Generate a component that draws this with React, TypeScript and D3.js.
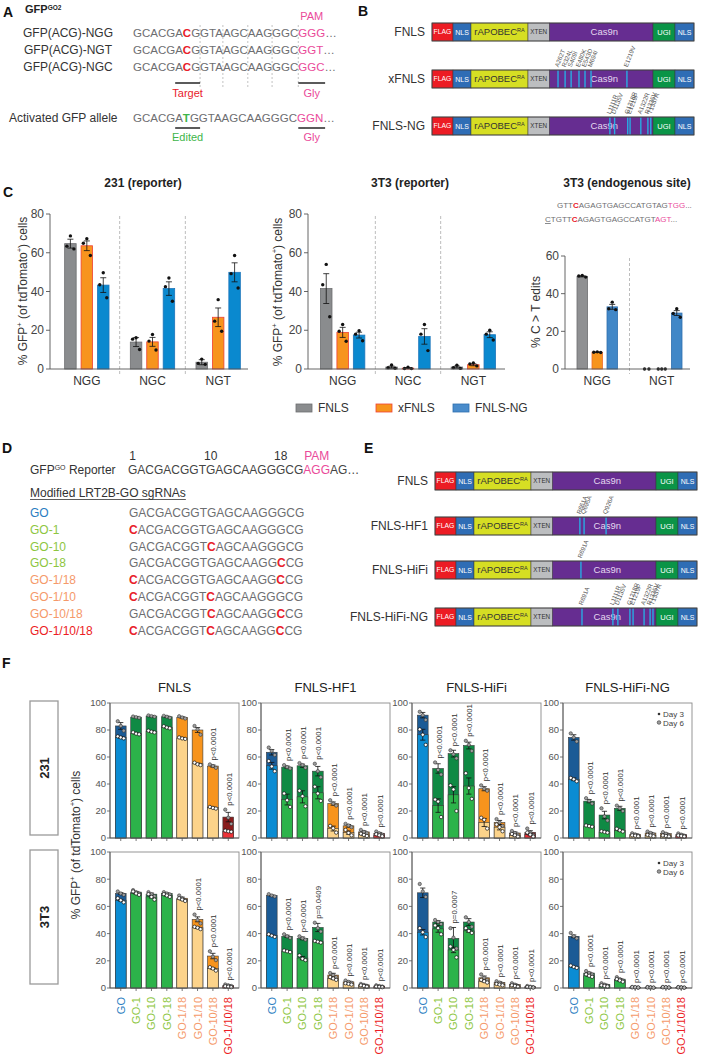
import React from 'react';
import * as d3 from 'd3';

const FONT = "'Liberation Sans', Arial, Helvetica, sans-serif";
const RED = '#e8202a';
const PINK = '#ea4a9a';
const GREEN_TXT = '#3db549';
const SEQ_GRAY = '#6d6e71';
const TXT = '#333';

// ---------------- Panel A data ----------------
const aRowLabels = ['GFP(ACG)-NGG', 'GFP(ACG)-NGT', 'GFP(ACG)-NGC'];
const aPre = 'GCACGA';
const aTarget = 'C';
const aPost = 'GGTAAGCAAGGGC';
const aPams = ['GGG', 'GGT', 'GGC'];
const aEdit = 'T';
const aEditPam = 'GGN';
const aCodonBreaks = [8, 11, 14, 17, 20];

// ---------------- Panel B / E data ----------------
const conSegments = ['FLAG', 'NLS', 'rAPOBEC', 'XTEN', 'Cas9n', 'UGI', 'NLS'];
const conSegWidths = [21, 18, 57, 21.5, 103.5, 22, 19];
const bNames = ['FNLS', 'xFNLS', 'FNLS-NG'];
const bMutPos = [[], [0.481, 0.508, 0.531, 0.561, 0.584, 0.607, 0.744], [0.679, 0.697, 0.747, 0.756, 0.797, 0.824, 0.835]];
const bMutLabels = [[], ['A262T', 'R324L', 'S409I', 'E480K', 'E543D', 'M694I', 'E1219V'], ['L1111R', 'D1135V', 'G1218R', 'E1219F', 'A1322R', 'R1335V', 'T1337R']];
const eNames = ['FNLS', 'FNLS-HF1', 'FNLS-HiFi', 'FNLS-HiFi-NG'];
const eMutPos = [[], [0.553, 0.569, 0.653], [0.557], [0.561, 0.679, 0.698, 0.744, 0.756, 0.798, 0.821, 0.832]];
const eMutLabels = [[], ['R661A', 'Q695A', 'Q926A'], ['R691A'], ['R691A', 'L1111R', 'D1135V', 'G1218R', 'E1219F', 'A1322R', 'R1335V', 'T1337R']];

// ---------------- Panel C data ----------------
const cSeries = ['FNLS', 'xFNLS', 'FNLS-NG'];
const cGroupsReporter = ['NGG', 'NGC', 'NGT'];
const cGroupsEndo = ['NGG', 'NGT'];
const c231Mean = [[64.7, 13.9, 3.5], [63.6, 14, 26.7], [43.3, 41.5, 49.9]];
const c231Sem = [[2.3, 2.3, 1.3], [2.5, 2.3, 4.8], [3.8, 3.5, 4.9]];
const c231Pts = [
  [[68.7, 63.4, 62], [16.1, 15.4, 10.1], [5.1, 2.9, 2.4]],
  [[67.2, 64.9, 58.6], [17.8, 14.4, 9.8], [35.8, 24.7, 19.5]],
  [[49.7, 43.5, 36.8], [47, 42.5, 35], [58.6, 49.2, 41.8]],
];
const c3t3Mean = [[41.5, 1, 1], [18.9, 0.45, 2.2], [17.5, 16.8, 17.7]];
const c3t3Sem = [[7.7, 0.5, 0.5], [2.6, 0.25, 0.5], [1.5, 4.0, 1.5]];
const c3t3Pts = [
  [[54, 43.5, 27], [2.1, 0.7, 0.35], [2, 0.7, 0.3]],
  [[23, 19.5, 14.3], [0.9, 0.25, 0.2], [3.1, 2.6, 1.6]],
  [[19.8, 18, 14.6], [23, 18, 9.5], [20, 18, 15]],
];
const cEndoMean = [[49.2, 0], [8.9, 0], [33, 29.7]];
const cEndoSem = [[0.3, 0], [0.1, 0], [1.3, 1.3]];
const cEndoPts = [[[49.7, 49.4, 48.8], [0, 0]], [[9.1, 8.9, 8.8], [0, 0, 0]], [[35.5, 32, 31.5], [32, 29.5, 27.5]]];
const cYTitles = ['231 (reporter)', '3T3 (reporter)', '3T3 (endogenous site)'];

// ---------------- Panel D data ----------------
const dReporter = 'GACGACGGTGAGCAAGGGCG';
const dPam = 'AGG';
const dTail = 'AG…';
const dNumbers = [1, 10, 18];
const dGuides = ['GO', 'GO-1', 'GO-10', 'GO-18', 'GO-1/18', 'GO-1/10', 'GO-10/18', 'GO-1/10/18'];
const dMods = [[], [0], [9], [17], [0, 17], [0, 9], [9, 17], [0, 9, 17]];
const guideKind = ['go', 'single', 'single', 'single', 'double', 'double', 'double', 'triple'];
const kindLabelColor = { go: '#2a7dc1', single: '#8dc63f', double: '#f5996a', triple: '#ec1c24' };
const kindDark = { go: '#1b5b96', single: '#0f8a44', double: '#f7941d', triple: '#8a1c1c' };
const kindLight = { go: '#0b8cd3', single: '#2cb34a', double: '#fcd38a', triple: '#ec3338' };

// ---------------- Panel F data ----------------
const fConstructs = ['FNLS', 'FNLS-HF1', 'FNLS-HiFi', 'FNLS-HiFi-NG'];
const fCellLines = ['231', '3T3'];
const P = 'p<0.0001';
const fDay6Mean = [
  [83, 89.5, 90.3, 89.8, 89.3, 80, 53.3, 15.5],
  [63.5, 52.5, 53.5, 49.5, 25.5, 9, 4.5, 3.5],
  [91, 51.5, 62.5, 68.5, 36.5, 11.5, 3.7, 4.2],
  [74.5, 27.3, 17, 22, 2.7, 3.7, 3.2, 2.5],
  [69.5, 70.5, 69, 69.5, 66, 50.5, 23.5, 2],
  [68, 38, 36.5, 44.5, 9.5, 4.5, 2.3, 1.5],
  [70, 48.5, 36.5, 48.5, 7.5, 4, 2.5, 1],
  [38, 11, 2.5, 6.5, 0.6, 0.5, 0.6, 0.5],
];
const fDay6Sem = [
  [2.5, 0.4, 0.4, 0.5, 0.5, 1.8, 0.8, 3.5],
  [2, 0.8, 1.2, 3.5, 1.2, 1, 0.8, 0.6],
  [2, 3.5, 2.5, 2.5, 1.5, 1.5, 0.8, 1.2],
  [2, 1.2, 2.8, 1.5, 0.4, 0.5, 0.5, 0.4],
  [0.6, 0.5, 0.8, 0.5, 0.8, 1.8, 2, 0.3],
  [0.4, 0.8, 1, 3, 1.3, 0.5, 0.4, 0.3],
  [3.5, 1, 8, 2.5, 1.3, 0.6, 0.5, 0.25],
  [1, 0.6, 0.4, 0.5, 0.1, 0.1, 0.1, 0.1],
];
const fDay6Pts = [
  [[86.5, 83, 79.5], [90, 89.5, 89], [90.8, 90.3, 89.8], [90.5, 89.8, 89], [90.2, 89.3, 88.5], [83, 80.5, 76.5], [54.5, 53.3, 52], [21, 15, 10.5]],
  [[67, 64.5, 61.5], [54, 52.5, 51.5], [55.5, 54, 52], [55, 49.5, 45], [28, 25.5, 24], [10.5, 9.3, 8], [6, 4.5, 3.5], [4.8, 3.5, 2.5]],
  [[93.5, 91, 87.5], [56, 50.5, 47], [65, 62, 59], [72, 69, 64.5], [39, 36.5, 35], [14, 11.5, 9], [5.2, 3.7, 2.5], [7, 4, 2.2]],
  [[77.5, 74.5, 71.5], [29.5, 27.5, 25.5], [22, 16, 13], [24, 22, 20], [3.5, 2.7, 2], [4.8, 3.7, 2.7], [4.3, 3.2, 2.2], [3.4, 2.5, 1.7]],
  [[71, 69.5, 68.5], [72, 70.5, 69.5], [70.5, 69, 67.5], [70.5, 69.5, 68.8], [68, 66, 64.5], [54, 50, 47.5], [27, 23, 20.5], [2.6, 2, 1.5]],
  [[69, 68, 67.3], [39.5, 38, 36.8], [38, 36.5, 35.5], [48, 44, 41.5], [11, 9.5, 8], [5.5, 4.5, 3.8], [3, 2.3, 1.6], [2, 1.5, 1.1]],
  [[76.5, 71, 67], [50, 48.5, 47], [44, 37, 29], [52, 48.5, 45], [10, 7.5, 6], [5, 4, 3], [3.5, 2.5, 1.5], [1.5, 1, 0.6]],
  [[40.5, 38, 36.5], [12.5, 11, 10], [3.5, 2.5, 1.7], [8, 6.5, 5.5], [0.8, 0.6, 0.4], [0.7, 0.5, 0.3], [0.8, 0.6, 0.4], [0.7, 0.5, 0.3]],
];
const fDay3Mean = [
  [74.5, 77.5, 78.8, 82, 74, 55, 22.5, 5],
  [53.5, 28.5, 30.5, 33.5, 7, 4, 2.3, 2],
  [76.5, 24, 32, 38.5, 11.5, 8, 2, 2.5],
  [43.5, 8.8, 4.5, 5.7, 1.7, 1.8, 1.5, 1.5],
  [64.5, 69.5, 67, 68, 65, 44.3, 14.3, 1],
  [38.5, 27, 22, 34, 7, 3, 1.5, 0.8],
  [41, 43.5, 28, 42, 5, 2.5, 1.5, 0.5],
  [15.5, 9, 1.5, 5.5, 0.4, 0.3, 0.4, 0.3],
];
const fDay3Sem = [
  [0.5, 0.5, 0.5, 0.5, 0.4, 0.5, 0.4, 0.3],
  [2.5, 4, 4.5, 4.5, 1.8, 1.2, 0.6, 0.5],
  [4, 5, 6, 6, 3, 2, 0.6, 0.8],
  [1, 0.3, 0.4, 0.6, 0.3, 0.3, 0.3, 0.3],
  [0.6, 0.5, 0.8, 0.4, 0.4, 0.5, 0.6, 0.2],
  [0.4, 0.4, 1.2, 0.4, 0.8, 0.3, 0.2, 0.15],
  [2, 2.5, 2, 1, 0.6, 0.3, 0.3, 0.15],
  [0.4, 0.4, 0.2, 0.4, 0.1, 0.1, 0.1, 0.1],
];
const fDay3Pts = [
  [[75.3, 74.5, 73.8], [78.3, 77.3, 76.8], [79.5, 78.7, 78.2], [82.8, 81.8, 81.3], [74.5, 73.8, 73.4], [55.8, 54.6, 54], [23, 22.3, 21.8], [5.5, 5, 4.6]],
  [[57, 53, 49.5], [33, 28, 23], [35, 31, 23.5], [38, 33, 27.5], [9, 7.2, 4], [6, 3.8, 2], [3.2, 2.3, 1.5], [2.8, 2, 1.3]],
  [[80.5, 76.5, 69], [28.5, 27, 15.5], [39, 36, 20], [48, 37, 29], [15, 13.5, 7], [10, 8, 5], [3, 2, 1], [4, 2.5, 1]],
  [[44.5, 43.5, 42], [9.3, 8.8, 8.3], [5, 4.5, 4], [6.8, 5.7, 4.8], [2, 1.7, 1.3], [2.3, 1.8, 1.3], [1.9, 1.5, 1.1], [1.9, 1.5, 1.1]],
  [[66, 64.5, 63], [71, 69.5, 68.5], [69, 67, 65], [69, 68, 67], [66, 65, 64], [45, 44.3, 43.3], [15.3, 14.3, 12.8], [1.3, 1, 0.6]],
  [[39.5, 38.5, 37.6], [27.6, 27, 26.4], [24, 21.5, 20.5], [34.6, 34, 33.4], [8, 7, 6], [3.5, 3, 2.5], [2, 1.5, 1], [1, 0.8, 0.6]],
  [[44, 41, 37.5], [46, 44, 39.5], [30.5, 28, 22.5], [44, 42, 40.5], [6, 5, 4], [3, 2.5, 2], [2, 1.5, 1], [0.7, 0.5, 0.3]],
  [[16.5, 15.5, 14.8], [10, 9, 8.2], [2, 1.5, 1.1], [6.5, 5.5, 4.6], [0.5, 0.4, 0.3], [0.4, 0.3, 0.2], [0.5, 0.4, 0.3], [0.4, 0.3, 0.2]],
];
const fPLabels = [
  ['', '', '', '', '', '', P, P],
  ['', P, P, P, P, P, P, P],
  ['', P, P, P, P, P, P, P],
  ['', P, P, P, P, P, P, P],
  ['', '', '', '', '', P, P, P],
  ['', P, P, 'p=0.0409', P, P, P, P],
  ['', '', 'p=0.0007', '', P, P, P, P],
  ['', P, P, P, P, P, P, P],
];
const fLegend = ['Day 3', 'Day 6'];

// ---------------- helpers ----------------
let measureCtx: CanvasRenderingContext2D | null = null;
function textWidth(s: string, size: number, bold = false): number {
  if (!measureCtx) {
    const c = document.createElement('canvas');
    measureCtx = c.getContext('2d');
  }
  if (!measureCtx) return s.length * size * 0.68;
  measureCtx.font = `${bold ? 'bold ' : ''}${size}px "Liberation Sans"`;
  return measureCtx.measureText(s).width;
}

type Part = { t: string; c?: string; b?: boolean; u?: boolean };
function Seq({ x, y, size, parts }: { x: number; y: number; size: number; parts: Part[] }) {
  return (
    <text x={x} y={y} fontSize={size}>
      {parts.map((p, i) => (
        <tspan key={i} fill={p.c || SEQ_GRAY} fontWeight={p.b ? 'bold' : 'normal'} textDecoration={p.u ? 'underline' : undefined}>
          {p.t}
        </tspan>
      ))}
    </text>
  );
}

function GfpLabel({ x, y, size }: { x: number; y: number; size: number }) {
  const s = size * 0.62;
  const d = size * 0.38;
  return (
    <text transform={`translate(${x},${y}) rotate(-90)`} textAnchor="middle" fontSize={size} fill={TXT}>
      % GFP<tspan fontSize={s} dy={-d}>+</tspan>
      <tspan dy={d}> (of tdTomato</tspan>
      <tspan fontSize={s} dy={-d}>+</tspan>
      <tspan dy={d}>) cells</tspan>
    </text>
  );
}

// ---------------- Panel A ----------------
function PanelA() {
  const size = 11.5;
  const sx = 133;
  const full = aPre + aTarget + aPost + aPams[0];
  const xAt = (i: number) => sx + textWidth(full.slice(0, i), size);
  const rowsY = [37, 54, 71];
  const actY = 122;
  return (
    <g>
      <text x={3} y={17} fontSize={14} fontWeight="bold" fill="#111">A</text>
      <text x={25} y={13} fontSize={11} fontWeight="bold" fill="#222">
        GFP<tspan fontSize={6.5} dy={-3}>GO2</tspan>
      </text>
      {aCodonBreaks.map((b) => (
        <line key={b} x1={xAt(b)} x2={xAt(b)} y1={25} y2={89} stroke="#9a9a9a" strokeWidth={0.6} strokeDasharray="2,2" />
      ))}
      <text x={(xAt(20) + xAt(23)) / 2} y={20} fontSize={11} fill={PINK} textAnchor="middle">PAM</text>
      {aRowLabels.map((l, i) => (
        <g key={l}>
          <text x={68} y={rowsY[i]} fontSize={12} fill={TXT} textAnchor="middle">{l}</text>
          <Seq x={sx} y={rowsY[i]} size={size} parts={[{ t: aPre }, { t: aTarget, c: RED, b: true }, { t: aPost }, { t: aPams[i], c: PINK }, { t: '…' }]} />
        </g>
      ))}
      <line x1={xAt(5)} x2={xAt(8)} y1={83} y2={83} stroke="#333" strokeWidth={1.6} />
      <text x={(xAt(5) + xAt(8)) / 2} y={97} fontSize={11} fill={RED} textAnchor="middle">Target</text>
      <line x1={xAt(20)} x2={xAt(23)} y1={83} y2={83} stroke="#333" strokeWidth={1.6} />
      <text x={(xAt(20) + xAt(23)) / 2} y={97} fontSize={11} fill={PINK} textAnchor="middle">Gly</text>

      <text x={9} y={actY} fontSize={12} fill={TXT}>Activated GFP allele</text>
      <Seq x={sx} y={actY} size={size} parts={[{ t: aPre }, { t: aEdit, c: GREEN_TXT, b: true }, { t: aPost }, { t: aEditPam, c: PINK }, { t: '…' }]} />
      <line x1={xAt(5)} x2={xAt(8)} y1={128} y2={128} stroke="#333" strokeWidth={1.6} />
      <text x={(xAt(5) + xAt(8)) / 2} y={141} fontSize={11} fill={GREEN_TXT} textAnchor="middle">Edited</text>
      <line x1={xAt(20)} x2={xAt(23)} y1={128} y2={128} stroke="#333" strokeWidth={1.6} />
      <text x={(xAt(20) + xAt(23)) / 2} y={141} fontSize={11} fill={PINK} textAnchor="middle">Gly</text>
    </g>
  );
}

// ---------------- Constructs (B, E) ----------------
const segStyle: Record<string, { fill: string; text: string; size: number }> = {
  FLAG: { fill: '#ec1c24', text: '#fff', size: 6.8 },
  NLS: { fill: '#2f6db5', text: '#fff', size: 7 },
  rAPOBEC: { fill: '#d6de23', text: '#333', size: 9.5 },
  XTEN: { fill: '#bcbec0', text: '#333', size: 6.3 },
  Cas9n: { fill: '#662d91', text: '#e4d8ef', size: 9.5 },
  UGI: { fill: '#0a9447', text: '#fff', size: 7.5 },
};

function Construct({ x, y, w, h, name, labelX, muts, mutLabels }: { x: number; y: number; w: number; h: number; name: string; labelX: number; muts: number[]; mutLabels: string[] }) {
  const total = d3.sum(conSegWidths);
  const sc = d3.scaleLinear().domain([0, total]).range([x, x + w]);
  const pos = d3.scaleLinear().domain([0, 1]).range([x, x + w]);
  const cum = d3.cumsum(conSegWidths);
  return (
    <g>
      <text x={labelX} y={y + h / 2 + 4.3} fontSize={12} fill={TXT} textAnchor="end">{name}</text>
      {conSegments.map((s, i) => {
        const x0 = sc(i === 0 ? 0 : cum[i - 1]);
        const x1 = sc(cum[i]);
        const st = segStyle[s];
        return (
          <g key={i}>
            <rect x={x0} y={y} width={x1 - x0} height={h} fill={st.fill} stroke="#3a3a3a" strokeWidth={0.5} />
            {s === 'rAPOBEC' ? (
              <text x={(x0 + x1) / 2} y={y + h / 2 + st.size * 0.36} fontSize={st.size} fill={st.text} textAnchor="middle">
                rAPOBEC<tspan fontSize={5.5} dy={-3.5}>RA</tspan>
              </text>
            ) : (
              <text x={(x0 + x1) / 2 + (s === 'Cas9n' ? 3 : 0)} y={y + h / 2 + st.size * 0.36} fontSize={st.size} fill={st.text} textAnchor="middle">{s}</text>
            )}
          </g>
        );
      })}
      {muts.map((m, i) => (
        <line key={'m' + i} x1={pos(m)} x2={pos(m)} y1={y + 0.5} y2={y + h - 0.5} stroke="#29abe2" strokeWidth={1.4} />
      ))}
      {muts.map((m, i) => (
        <text key={'l' + i} transform={`translate(${pos(m) + 0.5},${y - 2.5}) rotate(-68)`} fontSize={6.2} fill="#555">{mutLabels[i]}</text>
      ))}
      <rect x={x} y={y} width={w} height={h} fill="none" stroke="#444" strokeWidth={0.8} />
    </g>
  );
}

function PanelB() {
  const ys = [23, 70, 117];
  return (
    <g>
      <text x={358} y={16} fontSize={14} fontWeight="bold" fill="#111">B</text>
      {bNames.map((n, i) => (
        <Construct key={n} x={432} y={ys[i]} w={262} h={18} name={n} labelX={425} muts={bMutPos[i]} mutLabels={bMutLabels[i]} />
      ))}
    </g>
  );
}

function PanelE() {
  const ys = [472, 517, 561, 608];
  return (
    <g>
      <text x={364} y={453} fontSize={14} fontWeight="bold" fill="#111">E</text>
      {eNames.map((n, i) => (
        <Construct key={n} x={435} y={ys[i]} w={262} h={18} name={n} labelX={428} muts={eMutPos[i]} mutLabels={eMutLabels[i]} />
      ))}
    </g>
  );
}

// ---------------- Panel C ----------------
type CProps = {
  axisX: number; axisEnd: number; bandStart: number; bandEnd: number; top: number; bottom: number; yMax: number;
  groups: string[]; mean: number[][]; sem: number[][]; pts: number[][][]; fills: string[]; strokes: string[]; innerHalf: number;
};
function CChart(p: CProps) {
  const y = d3.scaleLinear().domain([0, p.yMax]).range([p.bottom, p.top]);
  const xg = d3.scaleBand().domain(p.groups).range([p.bandStart, p.bandEnd]);
  const xs = d3.scaleBand().domain(cSeries).range([-p.innerHalf, p.innerHalf]).paddingInner(0.3).paddingOuter(0.05);
  const bw = xs.bandwidth();
  const ticks = y.ticks(p.yMax / 20);
  return (
    <g>
      {p.groups.slice(1).map((g) => (
        <line key={g} x1={xg(g)} x2={xg(g)} y1={p.top + 2} y2={p.bottom + 5} stroke="#a0a0a0" strokeWidth={0.7} strokeDasharray="3,2" />
      ))}
      {cSeries.map((s, si) =>
        p.groups.map((g, gi) => {
          const cx = (xg(g) as number) + xg.bandwidth() / 2 + (xs(s) as number) + bw / 2;
          const m = p.mean[si][gi];
          const e = p.sem[si][gi];
          const pts = p.pts[si][gi];
          const offs = pts.length === 2 ? [-2.2, 2.2] : [0, -3.5, 3.5];
          return (
            <g key={s + g}>
              {m > 0 && (
                <rect x={cx - bw / 2} y={y(m)} width={bw} height={y(0) - y(m)} fill={p.fills[si]} stroke={p.strokes[si]} strokeWidth={0.8} />
              )}
              {e > 0 && (
                <g stroke="#111" strokeWidth={0.8}>
                  <line x1={cx} x2={cx} y1={y(m - e)} y2={y(m + e)} />
                  <line x1={cx - 3} x2={cx + 3} y1={y(m + e)} y2={y(m + e)} />
                  <line x1={cx - 3} x2={cx + 3} y1={y(m - e)} y2={y(m - e)} />
                </g>
              )}
              {pts.map((v, k) => (
                <circle key={k} cx={cx + offs[k % offs.length]} cy={y(v)} r={1.7} fill="#111" />
              ))}
            </g>
          );
        })
      )}
      <line x1={p.axisX} x2={p.axisX} y1={p.bottom} y2={y(p.yMax)} stroke="#555" strokeWidth={0.9} />
      <line x1={p.axisX} x2={p.axisEnd} y1={p.bottom} y2={p.bottom} stroke="#555" strokeWidth={0.9} />
      {ticks.map((t) => (
        <g key={t}>
          <line x1={p.axisX - 4} x2={p.axisX} y1={y(t)} y2={y(t)} stroke="#555" strokeWidth={0.9} />
          <text x={p.axisX - 6} y={y(t) + 4.2} fontSize={12} fill="#444" textAnchor="end">{t}</text>
        </g>
      ))}
      {p.groups.map((g) => (
        <text key={g} x={(xg(g) as number) + xg.bandwidth() / 2} y={p.bottom + 16} fontSize={12} fill={TXT} textAnchor="middle">{g}</text>
      ))}
    </g>
  );
}

function PanelC() {
  const fills = ['#8a8c8e', '#f7941d', '#0a89cf'];
  const strokes = ['#6d6e70', '#ef4136', '#1d75bb'];
  const fillsEndo = ['#8f9092', '#f7941d', '#4187c7'];
  const strokesEndo = ['#6d6e70', '#ef6b2a', '#2f6fae'];
  const legendX = [296, 376, 453];
  const legendFill = ['#8a8c8e', '#f7941d', '#4a8ccb'];
  const legendStroke = ['#6d6e70', '#ef4136', '#2f6fae'];
  return (
    <g>
      <text x={3} y={197} fontSize={14} fontWeight="bold" fill="#111">C</text>
      <text x={143} y={187} fontSize={12} fontWeight="bold" fill="#222" textAnchor="middle">{cYTitles[0]}</text>
      <text x={410} y={187} fontSize={12} fontWeight="bold" fill="#222" textAnchor="middle">{cYTitles[1]}</text>
      <text x={627} y={187} fontSize={12} fontWeight="bold" fill="#222" textAnchor="middle">{cYTitles[2]}</text>
      <GfpLabel x={27} y={291} size={12} />
      <GfpLabel x={282} y={292} size={12} />
      <text transform="translate(540,312) rotate(-90)" textAnchor="middle" fontSize={12} fill={TXT}>% C &gt; T edits</text>
      <CChart axisX={50} axisEnd={248} bandStart={54} bandEnd={251} top={214} bottom={369} yMax={80} groups={cGroupsReporter} mean={c231Mean} sem={c231Sem} pts={c231Pts} fills={fills} strokes={strokes} innerHalf={23} />
      <CChart axisX={308} axisEnd={505} bandStart={310} bandEnd={506} top={214} bottom={369} yMax={80} groups={cGroupsReporter} mean={c3t3Mean} sem={c3t3Sem} pts={c3t3Pts} fills={fills} strokes={strokes} innerHalf={23} />
      <CChart axisX={565} axisEnd={690} bandStart={565} bandEnd={694} top={256} bottom={369} yMax={60} groups={cGroupsEndo} mean={cEndoMean} sem={cEndoSem} pts={cEndoPts} fills={fillsEndo} strokes={strokesEndo} innerHalf={21} />
      <Seq x={557} y={208} size={8} parts={[{ t: 'GTT' }, { t: 'C', c: RED, b: true }, { t: 'AGAGTGAGCCATGTAG' }, { t: 'TGG', c: PINK }, { t: '...' }]} />
      <Seq x={545} y={222} size={8} parts={[{ t: 'C', u: true }, { t: 'TGTT' }, { t: 'C', c: RED, b: true }, { t: 'AGAGTGAGCCATGT' }, { t: 'AGT', c: PINK }, { t: '...' }]} />
      {cSeries.map((s, i) => (
        <g key={s}>
          <rect x={legendX[i]} y={404} width={16} height={8} fill={legendFill[i]} stroke={legendStroke[i]} strokeWidth={0.8} />
          <text x={legendX[i] + 22} y={412} fontSize={12} fill={TXT}>{s}</text>
        </g>
      ))}
    </g>
  );
}

// ---------------- Panel D ----------------
function PanelD() {
  const size = 12;
  const sx = 128;
  const full = dReporter + dPam + dTail;
  const xAt = (i: number) => sx + textWidth(full.slice(0, i), size);
  const cxAt = (i: number) => (xAt(i) + xAt(i + 1)) / 2;
  const title = 'Modified LRT2B-GO sgRNAs';
  return (
    <g>
      <text x={2} y={453} fontSize={14} fontWeight="bold" fill="#111">D</text>
      {dNumbers.map((n) => (
        <text key={n} x={cxAt(n - 1)} y={460} fontSize={12} fill={TXT} textAnchor="middle">{n}</text>
      ))}
      <text x={(xAt(20) + xAt(23)) / 2} y={460} fontSize={12} fill={PINK} textAnchor="middle">PAM</text>
      <text x={30} y={474} fontSize={12} fill={TXT}>
        GFP<tspan fontSize={7} dy={-4}>GO</tspan>
        <tspan dy={4}> Reporter</tspan>
      </text>
      <Seq x={sx} y={474} size={size} parts={[{ t: dReporter, c: '#444' }, { t: dPam, c: PINK }, { t: dTail, c: '#444' }]} />
      <text x={30} y={497} fontSize={12} fill={TXT}>{title}</text>
      <line x1={30} x2={30 + textWidth(title, 12)} y1={499.5} y2={499.5} stroke={TXT} strokeWidth={0.8} />
      {dGuides.map((g, i) => {
        const yy = 517 + i * 16.8;
        const mods = dMods[i];
        const parts: Part[] = [];
        let cur = '';
        for (let k = 0; k < dReporter.length; k++) {
          if (mods.includes(k)) {
            if (cur) parts.push({ t: cur });
            parts.push({ t: 'C', c: RED, b: true });
            cur = '';
          } else cur += dReporter[k];
        }
        if (cur) parts.push({ t: cur });
        return (
          <g key={g}>
            <text x={30} y={yy} fontSize={12} fill={(kindLabelColor as any)[guideKind[i]]}>{g}</text>
            <Seq x={sx + 1} y={yy} size={size} parts={parts} />
          </g>
        );
      })}
    </g>
  );
}

// ---------------- Panel F ----------------
function FChart({ idx, left, top, bottom }: { idx: number; left: number; top: number; bottom: number }) {
  const w = 129;
  const row = Math.floor(idx / 4);
  const col = idx % 4;
  const y = d3.scaleLinear().domain([0, 100]).range([bottom, top]);
  const x = d3.scaleBand().domain(dGuides).range([left, left + w]).paddingInner(0.3).paddingOuter(0.35);
  const bw = x.bandwidth();
  const offs = [-3, 0, 3];
  const ErrBar = ({ cx, m, e }: { cx: number; m: number; e: number }) => (
    <g stroke="#111" strokeWidth={0.8}>
      <line x1={cx} x2={cx} y1={y(Math.max(0, m - e))} y2={y(m + e)} />
      <line x1={cx - 2.6} x2={cx + 2.6} y1={y(m + e)} y2={y(m + e)} />
      <line x1={cx - 2.6} x2={cx + 2.6} y1={y(Math.max(0, m - e))} y2={y(Math.max(0, m - e))} />
    </g>
  );
  return (
    <g>
      {row === 0 && (
        <text x={left + w / 2} y={692} fontSize={13} fill="#222" textAnchor="middle">{fConstructs[col]}</text>
      )}
      <rect x={left} y={top} width={w} height={bottom - top} fill="none" stroke="#8a8a8a" strokeWidth={0.9} />
      {dGuides.map((g, i) => {
        const cx = (x(g) as number) + bw / 2;
        const k = guideKind[i];
        const m6 = fDay6Mean[idx][i];
        const m3 = fDay3Mean[idx][i];
        return (
          <g key={g}>
            <rect x={cx - bw / 2} y={y(m6)} width={bw} height={y(0) - y(m6)} fill={(kindDark as any)[k]} stroke="#3a3a3a" strokeWidth={0.6} />
            <rect x={cx - bw / 2} y={y(m3)} width={bw} height={y(0) - y(m3)} fill={(kindLight as any)[k]} stroke="#3a3a3a" strokeWidth={0.6} />
            <ErrBar cx={cx} m={m6} e={fDay6Sem[idx][i]} />
            <ErrBar cx={cx} m={m3} e={fDay3Sem[idx][i]} />
            {fDay6Pts[idx][i].map((v, j) => (
              <circle key={'a' + j} cx={cx + offs[j]} cy={y(v)} r={1.7} fill="#9d9d9d" stroke="#222" strokeWidth={0.5} />
            ))}
            {fDay3Pts[idx][i].map((v, j) => (
              <circle key={'b' + j} cx={cx + offs[j]} cy={y(v)} r={1.7} fill="#fff" stroke="#111" strokeWidth={0.7} />
            ))}
            <line x1={cx} x2={cx} y1={bottom} y2={bottom + 3} stroke="#555" strokeWidth={0.8} />
          </g>
        );
      })}
      {dGuides.map((g, i) => {
        const lab = fPLabels[idx][i];
        if (!lab) return null;
        const cx = (x(g) as number) + bw / 2;
        const topVal = Math.max(fDay6Mean[idx][i] + fDay6Sem[idx][i], d3.max(fDay6Pts[idx][i]) as number);
        return (
          <text key={'p' + g} transform={`translate(${cx + 3.5},${y(topVal) - 4}) rotate(-90)`} fontSize={7.8} fill="#333">{lab}</text>
        );
      })}
      <line x1={left} x2={left} y1={top} y2={bottom} stroke="#555" strokeWidth={0.9} />
      <line x1={left} x2={left + w} y1={bottom} y2={bottom} stroke="#555" strokeWidth={0.9} />
      {y.ticks(5).map((t) => (
        <g key={t}>
          <line x1={left - 3} x2={left} y1={y(t)} y2={y(t)} stroke="#555" strokeWidth={0.8} />
          <text x={left - 4} y={y(t) + 3.4} fontSize={9.5} fill="#555" textAnchor="end">{t}</text>
        </g>
      ))}
      {row === 1 &&
        dGuides.map((g, i) => {
          const cx = (x(g) as number) + bw / 2;
          return (
            <text key={'x' + g} transform={`translate(${cx + 4},${bottom + 9}) rotate(-90)`} fontSize={11} fill={(kindLabelColor as any)[guideKind[i]]} textAnchor="end">{g}</text>
          );
        })}
      {col === 3 && (
        <g>
          <circle cx={659} cy={top + 11} r={1.3} fill="#333" />
          <text x={663} y={top + 14} fontSize={8} fill="#444">{fLegend[0]}</text>
          <circle cx={659} cy={top + 19.5} r={1.8} fill="#9d9d9d" stroke="#333" strokeWidth={0.6} />
          <text x={663} y={top + 22.5} fontSize={8} fill="#444">{fLegend[1]}</text>
        </g>
      )}
    </g>
  );
}

function PanelF() {
  const lefts = [110, 261, 412, 563];
  const tops = [703, 852];
  const bottoms = [838, 988];
  return (
    <g>
      <text x={2} y={668} fontSize={14} fontWeight="bold" fill="#111">F</text>
      {fCellLines.map((c, r) => (
        <g key={c}>
          <rect x={30} y={tops[r] - 2} width={28} height={134} fill="#fff" stroke="#9a9a9a" strokeWidth={1.3} />
          <text transform={`translate(${48.5},${tops[r] + 65}) rotate(-90)`} fontSize={13} fontWeight="bold" fill="#222" textAnchor="middle">{c}</text>
        </g>
      ))}
      <GfpLabel x={80} y={845} size={12} />
      {fCellLines.map((c, r) =>
        fConstructs.map((f, ci) => (
          <FChart key={c + f} idx={r * 4 + ci} left={lefts[ci]} top={tops[r]} bottom={bottoms[r]} />
        ))
      )}
    </g>
  );
}

export default function App() {
  return (
    <svg width={702} height={1058} viewBox="0 0 702 1058" fontFamily={FONT} style={{ position: 'absolute', left: 0, top: 0, background: '#fff' }}>
      <rect width={702} height={1058} fill="#fff" />
      <PanelA />
      <PanelB />
      <PanelC />
      <PanelD />
      <PanelE />
      <PanelF />
    </svg>
  );
}
